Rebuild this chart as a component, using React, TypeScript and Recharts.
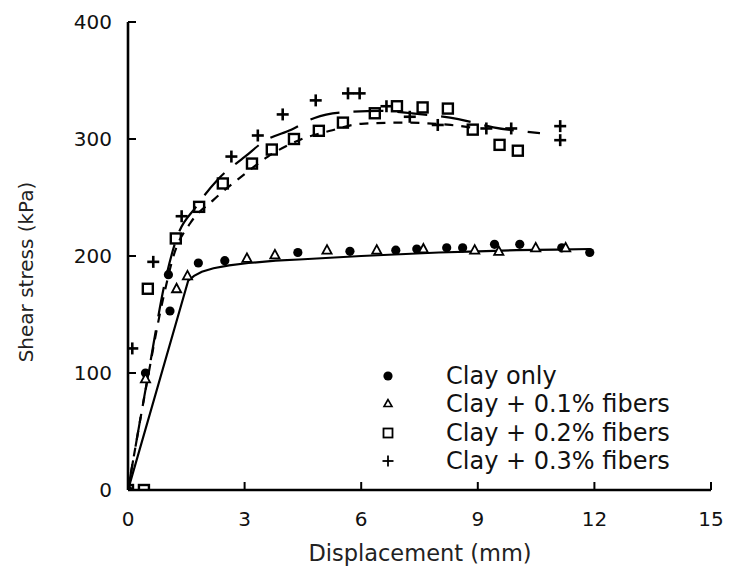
import React from 'react';
import { ComposedChart, Scatter, Line, XAxis, YAxis, Legend, Label } from 'recharts';

// ---- data (displacement mm, shear stress kPa) ----
const xTicks = [0, 3, 6, 9, 12, 15];
const yTicks = [0, 100, 200, 300, 400];

const clayOnlyPts: [number, number][] = [
  [0, 0], [0.45, 100], [1.08, 153], [1.04, 184], [1.81, 194], [2.49, 196], [4.37, 203],
  [5.71, 204], [6.89, 205], [7.43, 206], [8.2, 207], [8.61, 207], [9.43, 210], [10.08, 210],
  [11.16, 207], [11.88, 203],
];
const clay01Pts: [number, number][] = [
  [0, 0], [0.45, 95], [1.25, 172], [1.53, 183], [3.06, 198], [3.78, 201], [5.12, 205],
  [6.4, 205], [7.6, 206], [8.92, 205], [9.54, 204], [10.49, 207], [11.26, 207],
];
const clay02Pts: [number, number][] = [
  [0, 0], [0.41, 0], [0.51, 172], [1.23, 215], [1.83, 242], [2.44, 262], [3.19, 279],
  [3.7, 291], [4.27, 300], [4.91, 307], [5.53, 314], [6.35, 322], [6.92, 328], [7.58, 327],
  [8.23, 326], [8.87, 308], [9.56, 295], [10.03, 290],
];
const clay03Pts: [number, number][] = [
  [0, 0], [0.11, 121], [0.65, 195], [1.38, 234], [2.66, 285], [3.34, 303], [3.98, 321],
  [4.83, 333], [5.66, 339], [5.96, 339], [6.65, 328], [7.25, 319], [7.97, 312], [9.22, 309],
  [9.86, 309], [11.12, 311], [11.12, 299],
];

const fitClayOnly: [number, number][] = [
  [0, 0], [1.55, 179], [1.7, 183], [1.9, 186.5], [2.2, 189.5], [2.6, 192], [3.1, 194],
  [3.8, 196], [4.4, 197], [5.2, 198.5], [6, 200], [7, 201.5], [8, 203], [9, 204],
  [10, 205], [11, 205.5], [11.9, 206],
];
const fitClay02: [number, number][] = [
  [0, 0], [0.45, 85], [0.9, 163], [1.2, 203], [1.6, 228], [2.2, 248], [3.0, 270], [3.6, 285],
  [4.4, 299], [5.2, 307], [6.0, 313], [7.0, 314], [8.3, 312], [9.0, 309],
];
const fitClay03: [number, number][] = [
  [0, 0], [0.5, 95], [1.0, 185], [1.25, 215], [1.75, 242], [2.3, 265], [3.05, 286],
  [3.5, 298], [4.2, 308], [4.8, 318], [5.6, 323], [6.5, 324], [7.3, 322], [8.5, 317],
  [9.4, 310], [10.6, 305],
];

const legendLabels = ['Clay only', 'Clay + 0.1% fibers', 'Clay + 0.2% fibers', 'Clay + 0.3% fibers'];

const toObj = (a: [number, number][]) => a.map(([x, y]) => ({ x, y }));

const FONT = '"DejaVu Sans", sans-serif';

const Dot = (p: any) => <circle cx={p.cx} cy={p.cy} r={4.6} fill="#000" />;
const Tri = (p: any) => (
  <polygon
    points={`${p.cx},${p.cy - 5} ${p.cx - 4.6},${p.cy + 3.5} ${p.cx + 4.6},${p.cy + 3.5}`}
    fill="#fff" stroke="#000" strokeWidth={1.8}
  />
);
const Sq = (p: any) => (
  <rect x={p.cx - 5} y={p.cy - 5} width={10} height={10} fill="none" stroke="#000" strokeWidth={2.4} />
);
const Plus = (p: any) => (
  <g stroke="#000" strokeWidth={2.6}>
    <line x1={p.cx - 6} y1={p.cy} x2={p.cx + 6} y2={p.cy} />
    <line x1={p.cx} y1={p.cy - 6} x2={p.cx} y2={p.cy + 6} />
  </g>
);

const legendMarkers = [
  <circle cx={9} cy={9} r={4.6} fill="#000" />,
  <polygon points="9,4.5 5,11.5 13,11.5" fill="none" stroke="#000" strokeWidth={1.6} />,
  <rect x={4.5} y={4.5} width={9} height={9} fill="none" stroke="#000" strokeWidth={1.8} />,
  <g stroke="#000" strokeWidth={1.8}>
    <line x1={3.5} y1={9} x2={14.5} y2={9} />
    <line x1={9} y1={3.5} x2={9} y2={14.5} />
  </g>,
];

const LegendBox = () => (
  <div style={{ fontFamily: FONT, fontSize: 24, color: '#111' }}>
    {legendLabels.map((t, i) => (
      <div key={t} style={{ display: 'flex', alignItems: 'center', height: 28.3, whiteSpace: 'nowrap' }}>
        <svg width={18} height={18} style={{ marginRight: 49 }}>{legendMarkers[i]}</svg>
        <span style={{ lineHeight: '28px' }}>{t}</span>
      </div>
    ))}
  </div>
);

export default function App() {
  return (
    <div style={{ position: 'absolute', left: 0, top: 0, width: 732, height: 571, background: '#fff' }}>
      <ComposedChart width={732} height={571} margin={{ top: 22, right: 21, left: 0, bottom: 0 }}>
        <XAxis
          dataKey="x" type="number" domain={[0, 15]} ticks={xTicks} interval={0}
          height={81} tickSize={-8} tickMargin={30}
          axisLine={{ stroke: '#000', strokeWidth: 2.6 }} tickLine={{ stroke: '#000', strokeWidth: 2 }}
          tick={{ fill: '#111', fontSize: 20, fontFamily: FONT }}
          allowDataOverflow
        >
          <Label
            content={() => (
              <text x={420} y={553} textAnchor="middle" dominantBaseline="central"
                fontFamily={FONT} fontSize={22.5} fill="#222">Displacement (mm)</text>
            )}
          />
        </XAxis>
        <YAxis
          dataKey="y" type="number" domain={[0, 400]} ticks={yTicks} interval={0}
          width={128} tickSize={-8} tickMargin={24}
          axisLine={{ stroke: '#000', strokeWidth: 2.6 }} tickLine={{ stroke: '#000', strokeWidth: 2 }}
          tick={{ fill: '#111', fontSize: 20, fontFamily: FONT }}
          allowDataOverflow
        >
          <Label
            content={() => (
              <text x={26} y={272} textAnchor="middle" dominantBaseline="central"
                transform="rotate(-90 26 272)" fontFamily={FONT} fontSize={20} fill="#222">
                Shear stress (kPa)
              </text>
            )}
          />
        </YAxis>

        <Line data={toObj(fitClayOnly)} dataKey="y" type="linear" stroke="#000" strokeWidth={2.2}
          dot={false} activeDot={false} isAnimationActive={false} legendType="none" />
        <Line data={toObj(fitClay02)} dataKey="y" type="monotone" stroke="#000" strokeWidth={2.2}
          strokeDasharray="9 8" dot={false} activeDot={false} isAnimationActive={false} legendType="none" />
        <Line data={toObj(fitClay03)} dataKey="y" type="monotone" stroke="#000" strokeWidth={2.2}
          strokeDasharray="30 14" dot={false} activeDot={false} isAnimationActive={false} legendType="none" />

        <Scatter name="Clay only" data={toObj(clayOnlyPts)} shape={Dot} isAnimationActive={false} />
        <Scatter name="Clay + 0.1% fibers" data={toObj(clay01Pts)} shape={Tri} isAnimationActive={false} />
        <Scatter name="Clay + 0.2% fibers" data={toObj(clay02Pts)} shape={Sq} isAnimationActive={false} />
        <Scatter name="Clay + 0.3% fibers" data={toObj(clay03Pts)} shape={Plus} isAnimationActive={false} />

        <Legend layout="vertical" align="center" verticalAlign="middle" content={LegendBox}
          wrapperStyle={{ position: 'absolute', left: 379, top: 362, width: 340, height: 115 }} />
      </ComposedChart>
    </div>
  );
}
